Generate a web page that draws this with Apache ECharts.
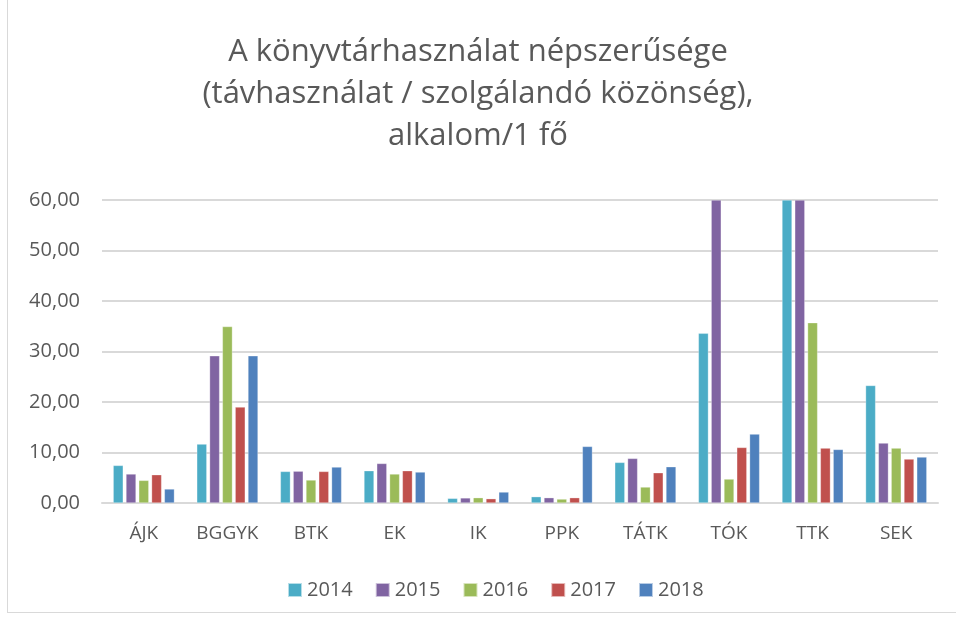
<!DOCTYPE html>
<html>
<head>
<meta charset="utf-8">
<script src="https://cdn.jsdelivr.net/npm/echarts@6/dist/echarts.min.js"></script>
<style>
    html, body { margin: 0; padding: 0; background: #fff; }
    .frame { position: absolute; left: 7px; top: -2px; width: 960px; height: 613px; border: 1px solid #d9d9d9; }
    #chart { position: absolute; left: 0; top: 0; width: 956px; height: 619px; }
</style>
</head>
<body>
<div class="frame"></div>
<div id="chart"></div>
<script>
// faculties
const categories = ["ÁJK", "BGGYK", "BTK", "EK", "IK", "PPK", "TÁTK", "TÓK", "TTK", "SEK"];
const years = ["2014", "2015", "2016", "2017", "2018"];
// values (bars above 60 are cut at the axis top)
const v2014 = [7.44, 11.67, 6.25, 6.39, 0.92, 1.25, 8.04, 33.6, 60, 23.27];
const v2015 = [5.74, 29.14, 6.3, 7.83, 1.0, 1.05, 8.83, 60, 60, 11.87];
const v2016 = [4.48, 34.94, 4.55, 5.74, 1.05, 0.78, 3.16, 4.74, 35.7, 10.87];
const v2017 = [5.6, 18.99, 6.25, 6.39, 0.85, 1.05, 5.99, 11.0, 10.87, 8.7];
const v2018 = [2.77, 29.14, 7.12, 6.13, 2.17, 11.2, 7.18, 13.65, 10.6, 9.1];
const colors = ["#4BACC6", "#8064A2", "#9BBB59", "#C0504D", "#4F81BD"];

const seriesData = [v2014, v2015, v2016, v2017, v2018];

const myChart = echarts.init(document.getElementById("chart"));
const option = {
    color: colors,
    title: {
        text: "A könyvtárhasználat népszerűsége\n(távhasználat / szolgálandó közönség),\nalkalom/1 fő",
        left: "center",
        top: 26,
        textStyle: {
            fontFamily: "Open Sans",
            fontSize: 31,
            fontWeight: "normal",
            color: "#595959",
            lineHeight: 42
        }
    },
    grid: {
        left: 102,
        right: 18,
        top: 200,
        bottom: 116
    },
    legend: {
        data: years,
        bottom: 14,
        left: 282,
        itemWidth: 14,
        itemHeight: 14,
        itemGap: 22,
        icon: "rect",
        textStyle: { fontFamily: "Open Sans", fontSize: 20, color: "#595959" }
    },
    xAxis: {
        type: "category",
        data: categories,
        axisTick: { show: false },
        axisLine: { lineStyle: { color: "#d9d9d9", width: 2 } },
        axisLabel: { interval: 0, fontFamily: "Open Sans", fontSize: 19, color: "#595959", margin: 21 }
    },
    yAxis: {
        type: "value",
        min: 0,
        max: 60,
        interval: 10,
        axisLabel: {
            fontFamily: "Open Sans",
            fontSize: 20,
            color: "#595959",
            margin: 22,
            formatter: function (value) {
                return value.toFixed(2).replace(".", ",");
            }
        },
        splitLine: { lineStyle: { color: "#d9d9d9", width: 2 } }
    },
    series: years.map(function (y, i) {
        return {
            name: y,
            type: "bar",
            data: seriesData[i],
            barWidth: 10,
            barGap: "28%",
            clip: true,
            itemStyle: { borderColor: "rgba(255,255,255,0.6)", borderWidth: 0.5 }
        };
    })
};
myChart.setOption(option);
</script>
</body>
</html>
